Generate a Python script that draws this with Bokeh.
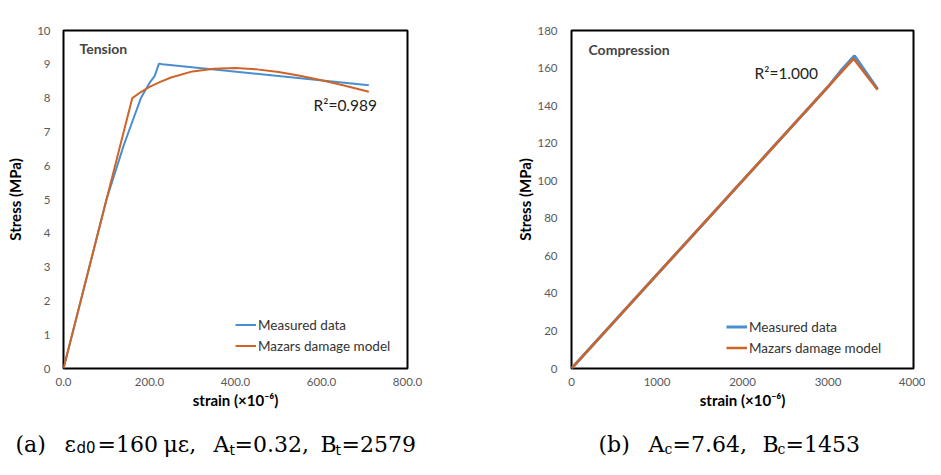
from bokeh.plotting import figure
from bokeh.models import Range1d, FixedTicker, NumeralTickFormatter, Label, Legend, LegendItem
from bokeh.layouts import row, column
from bokeh.embed import file_html
from bokeh.resources import INLINE

# ---------------- data ----------------
# Tension (strain in 1e-6, stress in MPa)
t_meas_strain = [0, 20, 40, 60, 80, 100, 120, 140, 160, 180, 200, 212, 222, 230, 710]
t_meas_stress = [0, 1.0, 2.0, 3.0, 4.0, 5.0, 5.8, 6.6, 7.3, 8.0, 8.45, 8.65, 9.02, 9.0, 8.38]
t_model_strain = [0, 160, 180, 200, 225, 250, 300, 350, 400, 450, 500, 550, 600, 650, 710]
t_model_stress = [0, 8.0, 8.18, 8.33, 8.48, 8.61, 8.79, 8.87, 8.89, 8.85, 8.77, 8.66, 8.53, 8.38, 8.19]

# Compression
c_meas_strain = [0, 500, 1000, 1500, 2000, 2500, 3000, 3150, 3310, 3580]
c_meas_stress = [0, 25, 50, 75, 100, 125, 150, 158.5, 166.5, 148.8]
c_model_strain = [0, 3300, 3580]
c_model_stress = [0, 165, 148.5]

t_xticks = [0, 200, 400, 600, 800]
t_yticks = [0, 1, 2, 3, 4, 5, 6, 7, 8, 9, 10]
c_xticks = [0, 1000, 2000, 3000, 4000]
c_yticks = [0, 20, 40, 60, 80, 100, 120, 140, 160, 180]

BLUE = "#4A8ECF"
ORANGE = "#CF6428"
TICK_FONT = "Lato"


def base_fig(w, h, bl, bt, br, bb, xr, yr, xt, yt):
    p = figure(width=w, height=h, min_border_left=bl, min_border_top=bt,
               min_border_right=br, min_border_bottom=bb, x_range=Range1d(*xr),
               y_range=Range1d(*yr), output_backend="svg", toolbar_location=None)
    p.grid.visible = False
    p.outline_line_color = "black"
    p.outline_line_width = 2
    p.xaxis.ticker = FixedTicker(ticks=xt)
    p.yaxis.ticker = FixedTicker(ticks=yt)
    for ax in (p.xaxis[0], p.yaxis[0]):
        ax.axis_line_color = None
        ax.major_tick_line_color = None
        ax.minor_tick_line_color = None
        ax.major_tick_out = 0
        ax.major_tick_in = 0
        ax.minor_tick_out = 0
        ax.minor_tick_in = 0
        ax.major_label_text_font = TICK_FONT
        ax.major_label_text_font_size = "11.5px"
        ax.major_label_text_color = "#595959"
        ax.axis_label_text_font = TICK_FONT
        ax.axis_label_text_font_style = "bold"
        ax.axis_label_text_font_size = "15px"
        ax.axis_label_text_color = "black"
    p.xaxis.axis_label = "strain (×10⁻⁶)"
    p.yaxis.axis_label = "Stress (MPa)"
    p.xaxis.major_label_standoff = 9
    p.xaxis.axis_label_standoff = 2
    return p


def add_legend(p, r1, r2, loc):
    leg = Legend(items=[LegendItem(label="Measured data", renderers=[r1]),
                        LegendItem(label="Mazars damage model", renderers=[r2])],
                 location=loc, padding=0, margin=0, spacing=0, label_height=21,
                 glyph_height=21, glyph_width=21, label_standoff=2,
                 border_line_color=None, background_fill_alpha=0,
                 label_text_font=TICK_FONT, label_text_font_size="13.5px",
                 label_text_color="#333333")
    p.add_layout(leg)


# ---------------- Tension ----------------
p1 = base_fig(473, 414, 63, 30, 66, 46, (0, 800), (0, 10), t_xticks, t_yticks)
p1.xaxis.formatter = NumeralTickFormatter(format="0.0")
p1.yaxis.major_label_standoff = 13
p1.yaxis.axis_label_standoff = 10
r1 = p1.line(t_meas_strain, t_meas_stress, line_color=BLUE, line_width=2)
r2 = p1.line(t_model_strain, t_model_stress, line_color=ORANGE, line_width=2)
add_legend(p1, r1, r2, (172, 12))
p1.add_layout(Label(x=16, y=320, x_units="screen", y_units="screen", text="Tension",
                    text_font=TICK_FONT, text_font_style="bold", text_font_size="14px",
                    text_baseline="middle"))
p1.add_layout(Label(x=250, y=264, x_units="screen", y_units="screen", text="R²=0.989",
                    text_font=TICK_FONT, text_font_size="15.5px", text_color="#222222",
                    text_baseline="middle"))

# ---------------- Compression ----------------
p2 = base_fig(452, 414, 98, 30, 12, 46, (0, 4000), (0, 180), c_xticks, c_yticks)
p2.yaxis.major_label_standoff = 14
p2.yaxis.axis_label_standoff = 0
q1 = p2.line(c_meas_strain, c_meas_stress, line_color=BLUE, line_width=3)
q2 = p2.line(c_model_strain, c_model_stress, line_color=ORANGE, line_width=2.5)
add_legend(p2, q1, q2, (155, 10))
p2.add_layout(Label(x=17, y=319, x_units="screen", y_units="screen", text="Compression",
                    text_font=TICK_FONT, text_font_style="bold", text_font_size="14px",
                    text_baseline="middle"))
p2.add_layout(Label(x=183, y=296, x_units="screen", y_units="screen", text="R²=1.000",
                    text_font=TICK_FONT, text_font_size="15.5px", text_color="#222222",
                    text_baseline="middle"))

# ---------------- captions ----------------
pc = figure(width=925, height=45, x_range=Range1d(0, 925), y_range=Range1d(0, 45),
            min_border=0, output_backend="svg", toolbar_location=None)
pc.axis.visible = False
pc.grid.visible = False
pc.outline_line_color = None
SER = "DejaVu Serif"
SAN = "DejaVu Sans"
caption_parts = [
    ("(a)", 15, 15, "22px", SER),
    ("ε", 64, 15, "22px", SER),
    ("d0", 76, 12, "15px", SAN),
    ("=160", 97, 15, "22px", SER),
    ("με,", 163, 15, "22px", SER),
    ("A", 213, 15, "22px", SER),
    ("t", 229, 10, "14px", SAN),
    ("=0.32,", 234, 15, "22px", SER),
    ("B", 320, 15, "22px", SER),
    ("t", 335, 10, "14px", SAN),
    ("=2579", 341, 15, "22px", SER),
    ("(b)", 598, 15, "22px", SER),
    ("A", 648, 15, "22px", SER),
    ("c", 664, 11, "14px", SER),
    ("=7.64,", 672, 15, "22px", SER),
    ("B", 762, 15, "22px", SER),
    ("c", 777, 11, "14px", SER),
    ("=1453", 785, 15, "22px", SER),
]
for txt, x, y, size, font in caption_parts:
    pc.add_layout(Label(x=x, y=y, text=txt, text_font=font, text_font_size=size,
                        text_color="black", text_baseline="alphabetic", text_align="left"))

layout = column(row(p1, p2), pc)
open("out.html", "w").write(file_html(layout, INLINE))
